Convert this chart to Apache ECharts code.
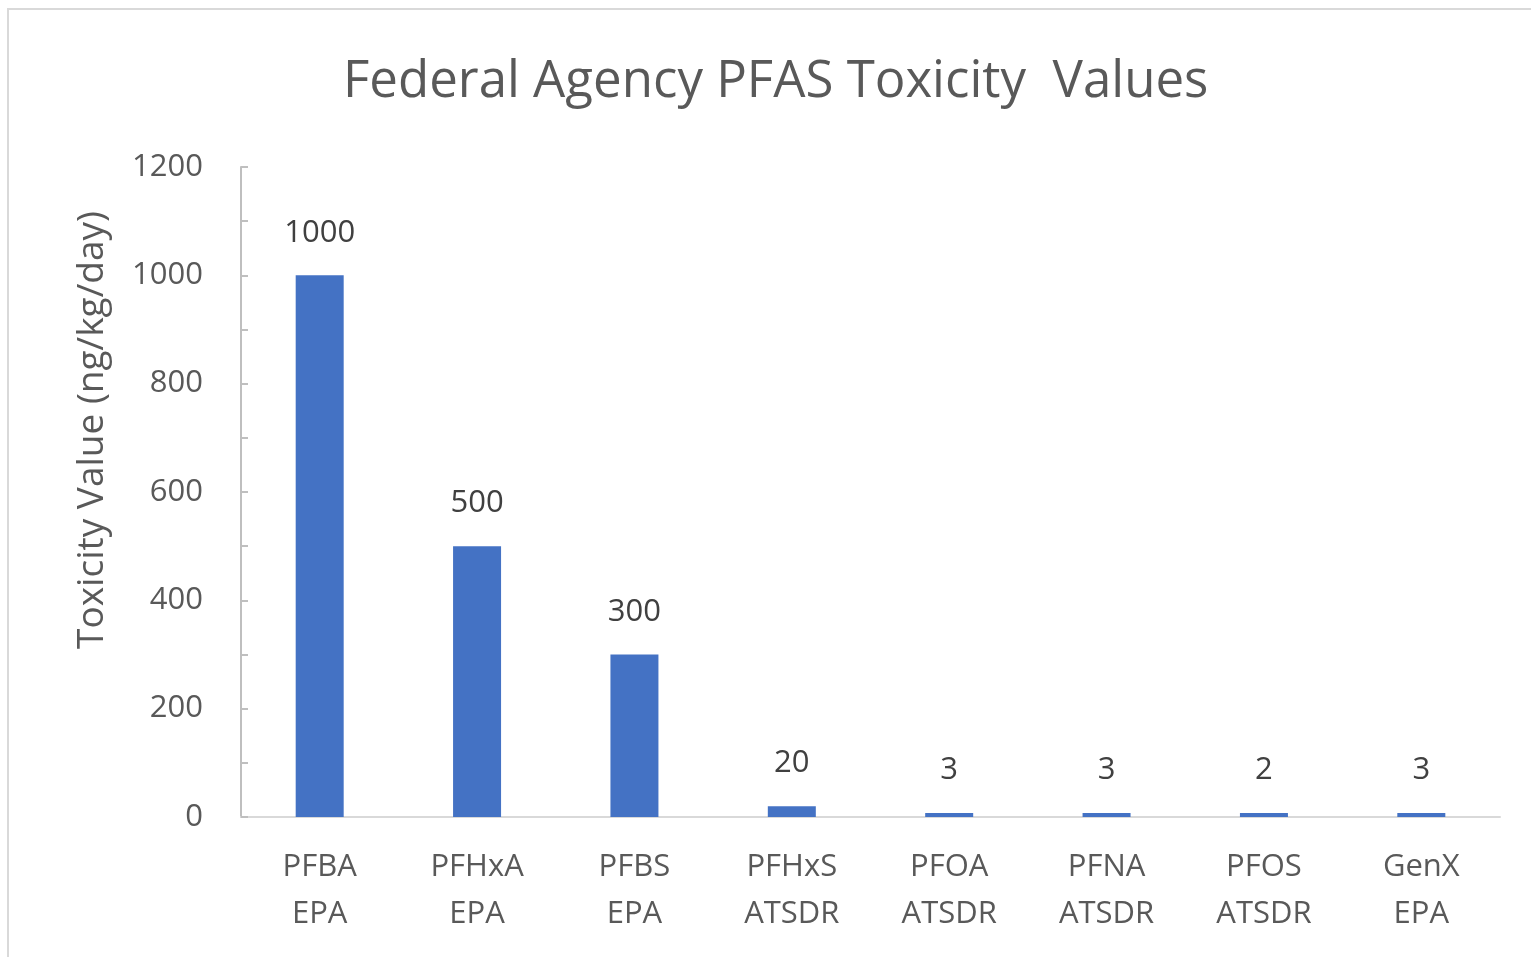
<!DOCTYPE html>
<html>
<head>
<meta charset="utf-8">
<script src="https://cdn.jsdelivr.net/npm/echarts@6/dist/echarts.min.js"></script>
<style>
  html, body { margin: 0; padding: 0; background: #fff; }
  #chart { width: 1531px; height: 957px; }
</style>
</head>
<body>
<div id="chart"></div>
<script>
const chemicals = ['PFBA', 'PFHxA', 'PFBS', 'PFHxS', 'PFOA', 'PFNA', 'PFOS', 'GenX'];
const agencies = ['EPA', 'EPA', 'EPA', 'ATSDR', 'ATSDR', 'ATSDR', 'ATSDR', 'EPA'];
const toxicityValues = [1000, 500, 300, 20, 3, 3, 2, 3];
const yTicks = [0, 200, 400, 600, 800, 1000, 1200];

const categories = chemicals.map((c, i) => c + '\n' + agencies[i]);
const font = 'Open Sans';

const chart = echarts.init(document.getElementById('chart'));

chart.setOption({
  animation: false,
  graphic: [{
    type: 'rect',
    shape: { x: 8, y: 9, width: 1540, height: 960 },
    style: { fill: 'none', stroke: '#d9d9d9', lineWidth: 2 }
  }, {
    type: 'text',
    x: 92,
    y: 430,
    rotation: Math.PI / 2,
    style: {
      text: 'Toxicity Value (ng/kg/day)',
      fontFamily: font, fontSize: 37, fill: '#595959',
      align: 'center', verticalAlign: 'middle'
    }
  }],
  title: {
    text: 'Federal Agency PFAS Toxicity  Values',
    left: 338,
    top: 52,
    textStyle: { fontFamily: font, fontSize: 51, fontWeight: 'normal', color: '#595959' }
  },
  grid: { left: 241, right: 31, top: 167, bottom: 140 },
  xAxis: {
    type: 'category',
    data: categories,
    axisLine: { lineStyle: { color: '#d9d9d9', width: 2 } },
    axisTick: { show: false },
    axisLabel: {
      fontFamily: font, fontSize: 31, color: '#595959',
      lineHeight: 47, margin: 27
    }
  },
  yAxis: {
    type: 'value',
    min: yTicks[0],
    max: yTicks[yTicks.length - 1],
    interval: 200,
    axisLine: { show: true, lineStyle: { color: '#bfbfbf', width: 2 } },
    axisTick: { show: true, inside: true, length: 7, lineStyle: { color: '#bfbfbf', width: 2 } },
    minorTick: { show: true, splitNumber: 2, length: 7, lineStyle: { color: '#bfbfbf', width: 2 } },
    splitLine: { show: false },
    axisLabel: {
      fontFamily: font, fontSize: 31, color: '#595959', margin: 38,
      formatter: v => String(v)
    }
  },
  series: [{
    type: 'bar',
    data: toxicityValues,
    barWidth: 48,
    barMinHeight: 4,
    itemStyle: { color: '#4472c4' },
    label: {
      show: true,
      position: 'top',
      distance: 27,
      fontFamily: font, fontSize: 31, color: '#404040'
    }
  }]
});
</script>
</body>
</html>
